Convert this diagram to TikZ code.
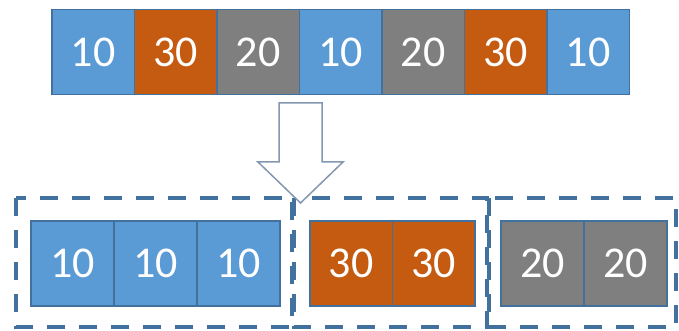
\documentclass[tikz,border=0pt]{standalone}
\usepackage{fontspec}
\setmainfont{Carlito}
\definecolor{cellblue}{HTML}{5B9BD5}
\definecolor{cellorange}{HTML}{C55A11}
\definecolor{cellgray}{HTML}{7F7F7F}
\definecolor{lineblue}{HTML}{41719C}
\definecolor{arrowgray}{HTML}{8497B0}
\tikzset{
  cell/.style={draw=lineblue, line width=1.5pt, text=white, inner sep=0pt,
    minimum width=82.5pt, minimum height=85pt,
    font=\fontsize{44}{46}\selectfont},
  ten/.style={cell, fill=cellblue},
  thirty/.style={cell, fill=cellorange},
  twenty/.style={cell, fill=cellgray},
  group/.style={draw=lineblue, line width=4pt, dash pattern=on 18pt off 14pt}
}
\begin{document}
\begin{tikzpicture}[x=1pt,y=-1pt]
\useasboundingbox (0,0) rectangle (679,331);
% input row
\node[ten]    (a1) at (93.25,52.25)  {10};
\node[thirty] (a2) at (175.75,52.25) {30};
\node[twenty] (a3) at (258.25,52.25) {20};
\node[ten]    (a4) at (340.75,52.25) {10};
\node[twenty] (a5) at (423.25,52.25) {20};
\node[thirty] (a6) at (505.75,52.25) {30};
\node[ten]    (a7) at (588.25,52.25) {10};

% groups
\draw[group] (16,198) rectangle (292,327);
\draw[group] (294,198) rectangle (487,327);
\draw[group] (489,198) rectangle (676,327);

\node[ten, minimum width=83pt] (b1) at (72.5,263.5)  {10};
\node[ten, minimum width=83pt] (b2) at (155.5,263.5) {10};
\node[ten, minimum width=83pt] (b3) at (238.5,263.5) {10};

\node[thirty] (c1) at (351.25,263.5) {30};
\node[thirty] (c2) at (433.75,263.5) {30};

\node[twenty, minimum width=83pt] (d1) at (542.5,263.5) {20};
\node[twenty, minimum width=83pt] (d2) at (625.5,263.5) {20};

% block arrow
\filldraw[draw=arrowgray, fill=white, line width=1.5pt]
  (279,103) -- (322,103) -- (322,162) -- (343,162) -- (300.5,203)
  -- (258,162) -- (279,162) -- cycle;
\end{tikzpicture}
\end{document}
